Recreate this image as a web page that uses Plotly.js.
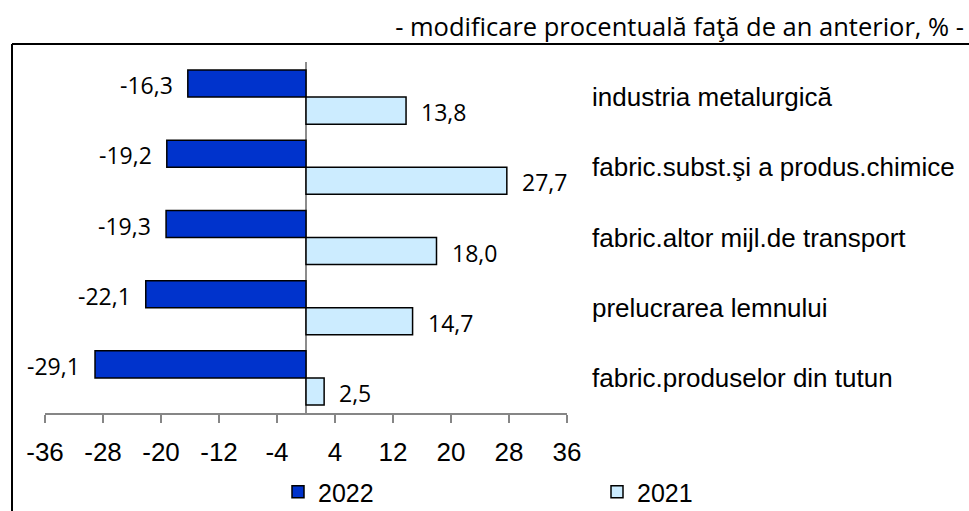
<!DOCTYPE html>
<html>
<head>
<meta charset="utf-8">
<script src="https://cdn.plot.ly/plotly-3.0.1.min.js"></script>
<style>html,body{margin:0;padding:0;background:#fff;}#chart{width:969px;height:511px;}</style>
</head>
<body>
<div id="chart"></div>
<script>
const categories = ['industria metalurgică','fabric.subst.şi a produs.chimice','fabric.altor mijl.de transport','prelucrarea lemnului','fabric.produselor din tutun'];
const values2022 = [-16.3, -19.2, -19.3, -22.1, -29.1];
const values2021 = [13.8, 27.7, 18.0, 14.7, 2.5];
const tickValues = [-36, -28, -20, -12, -4, 4, 12, 20, 28, 36];
const tickLabels = ['-36', '-28', '-20', '-12', '-4', '4', '12', '20', '28', '36'];
const seriesNames = ['2022', '2021'];
const titleText = '- modificare procentuală faţă de an anterior, % -';

const fmt = v => v.toFixed(1).replace('.', ',');
const W = 969, H = 511, L = 45, R = 402, T = 62, B = 98;
const pw = W - L - R, ph = H - T - B;
const toPX = px => (px - L) / pw;
const toPY = py => (H - B - py) / ph;

const traces = [
  {type:'bar', orientation:'h', name:seriesNames[0], y:categories, x:values2022, legend:'legend',
   marker:{color:'#0033CC', line:{color:'#000000', width:1.5}}, hoverinfo:'x+y'},
  {type:'bar', orientation:'h', name:seriesNames[1], y:categories, x:values2021, legend:'legend2',
   marker:{color:'#CCECFF', line:{color:'#000000', width:1.5}}, hoverinfo:'x+y'}
];

const labelFont = {family:'Open Sans, sans-serif', size:23, color:'#000'};
const annotations = [];
categories.forEach((c, i) => {
  annotations.push({x:values2022[i], y:c, xref:'x', yref:'y', text:fmt(values2022[i]), showarrow:false,
    xanchor:'right', yanchor:'middle', xshift:-13, yshift:12, font:labelFont});
  annotations.push({x:values2021[i], y:c, xref:'x', yref:'y', text:fmt(values2021[i]), showarrow:false,
    xanchor:'left', yanchor:'middle', xshift:13, yshift:-15, font:labelFont});
});

const legendFont = {family:'Liberation Sans, Arial, sans-serif', size:25, color:'#000'};
const layout = {
  width:W, height:H, autosize:false,
  margin:{l:L, r:R, t:T, b:B, pad:0, autoexpand:false},
  paper_bgcolor:'#fff', plot_bgcolor:'#fff',
  barmode:'group', bargap:0.23, bargroupgap:0,
  showlegend:true,
  title:{text:titleText, x:964/W, xanchor:'right', xref:'container', y:1-27/H, yanchor:'middle', yref:'container',
    font:{family:'Open Sans, sans-serif', size:25.5, color:'#000'}},
  xaxis:{range:[-36,36], tickmode:'array', tickvals:tickValues, ticktext:tickLabels,
    showgrid:false, zeroline:true, zerolinecolor:'#8c8c8c', zerolinewidth:2,
    showline:true, linecolor:'#868686', linewidth:1.5,
    ticks:'outside', ticklen:8, tickwidth:1.5, tickcolor:'#868686',
    ticklabelstandoff:7,
    tickfont:{family:'Liberation Sans, Arial, sans-serif', size:26, color:'#000'}, fixedrange:true},
  yaxis:{type:'category', autorange:'reversed', side:'right', showgrid:false, zeroline:false, showline:false,
    ticks:'', ticklabelstandoff:24,
    tickfont:{family:'Liberation Sans, Arial, sans-serif', size:26, color:'#000'}, fixedrange:true},
  legend:{orientation:'h', x:toPX(278), xanchor:'left', y:toPY(492), yanchor:'middle', itemwidth:30,
    font:legendFont, bgcolor:'rgba(0,0,0,0)'},
  legend2:{orientation:'h', x:toPX(597), xanchor:'left', y:toPY(492), yanchor:'middle', itemwidth:30,
    font:legendFont, bgcolor:'rgba(0,0,0,0)'},
  annotations:annotations,
  shapes:[
    {type:'line', xref:'paper', yref:'paper', x0:toPX(12), x1:toPX(12), y0:toPY(44), y1:toPY(560), line:{color:'#000', width:2}},
    {type:'line', xref:'paper', yref:'paper', x0:toPX(12), x1:toPX(1000), y0:toPY(44), y1:toPY(44), line:{color:'#000', width:2}}
  ]
};

Plotly.newPlot('chart', traces, layout, {displayModeBar:false, staticPlot:true});
</script>
</body>
</html>
